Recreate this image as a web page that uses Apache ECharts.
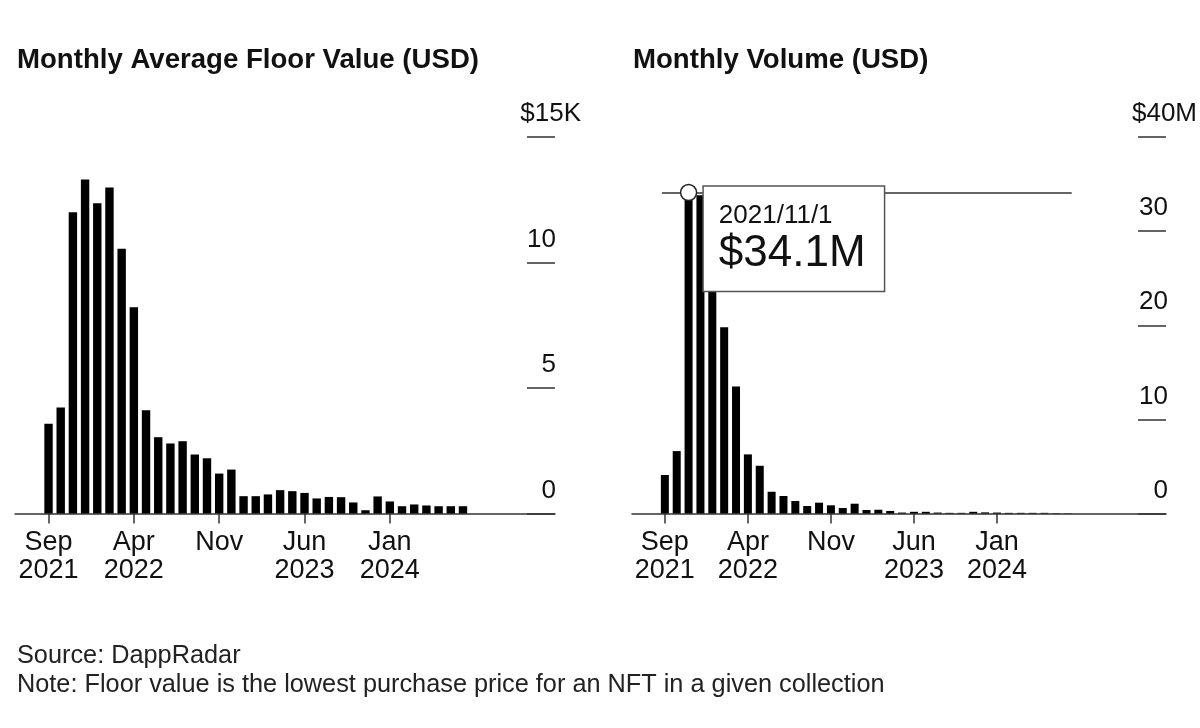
<!DOCTYPE html>
<html>
<head>
<meta charset="utf-8">
<script src="https://cdn.jsdelivr.net/npm/echarts@6/dist/echarts.min.js"></script>
<style>
html,body{margin:0;padding:0;background:#fff;}
#chart{width:1200px;height:728px;}
</style>
</head>
<body>
<div id="chart"></div>
<script>
// ---- data ----
const months = ['2021-09','2021-10','2021-11','2021-12','2022-01','2022-02','2022-03','2022-04','2022-05','2022-06',
  '2022-07','2022-08','2022-09','2022-10','2022-11','2022-12','2023-01','2023-02','2023-03','2023-04',
  '2023-05','2023-06','2023-07','2023-08','2023-09','2023-10','2023-11','2023-12','2024-01','2024-02',
  '2024-03','2024-04','2024-05','2024-06','2024-07'];
// Monthly average floor value, thousand USD
const floorValue = [3.58, 4.22, 12.0, 13.31, 12.36, 12.99, 10.55, 8.22, 4.11, 3.04,
  2.79, 2.88, 2.35, 2.20, 1.59, 1.75, 0.69, 0.69, 0.76, 0.93,
  0.89, 0.82, 0.60, 0.66, 0.65, 0.44, 0.13, 0.68, 0.48, 0.29,
  0.36, 0.32, 0.29, 0.29, 0.29];
// Monthly volume, million USD
const volume = [4.09, 6.63, 34.1, 33.8, 26.0, 19.8, 13.5, 6.28, 5.07, 2.31,
  1.86, 1.33, 0.80, 1.15, 0.87, 0.58, 1.04, 0.37, 0.40, 0.27,
  0.10, 0.18, 0.18, 0.10, 0.07, 0.07, 0.18, 0.12, 0.10, 0.07,
  0.07, 0.07, 0.07, 0.04, 0.03];
const xTickIndex = [0, 7, 14, 21, 28];
const xTickLabels = ['Sep\n2021', 'Apr\n2022', 'Nov', 'Jun\n2023', 'Jan\n2024'];
const leftYTicks = [0, 5, 10, 15];
const leftYTickLabels = ['0', '5', '10', '$15K'];
const rightYTicks = [0, 10, 20, 30, 40];
const rightYTickLabels = ['0', '10', '20', '30', '$40M'];
const titles = ['Monthly Average Floor Value (USD)', 'Monthly Volume (USD)'];
const footer = ['Source: DappRadar', 'Note: Floor value is the lowest purchase price for an NFT in a given collection'];

// ---- chart ----
const FONT = '"Liberation Sans", Arial, Helvetica, sans-serif';
const INK = '#111';
const AXIS = '#333';

const peakIdx = volume.indexOf(Math.max(...volume));
const peakDate = (function (m) { const p = m.split('-'); return p[0] + '/' + (+p[1]) + '/1'; })(months[peakIdx]);
const peakText = '$' + volume[peakIdx].toFixed(1) + 'M';

function xAxisCfg(gridIndex, min, max) {
  return {
    type: 'value', gridIndex: gridIndex, min: min, max: max,
    splitLine: { show: false },
    axisLine: { show: true, onZero: false, lineStyle: { color: AXIS, width: 1.5 } },
    axisTick: { show: true, customValues: xTickIndex, length: 10, lineStyle: { color: AXIS, width: 1.5 } },
    axisLabel: {
      customValues: xTickIndex, margin: 15, fontFamily: FONT, fontSize: 27, lineHeight: 28, color: INK,
      formatter: function (v) { const k = xTickIndex.indexOf(Math.round(v)); return k >= 0 ? xTickLabels[k] : ''; }
    }
  };
}
function yAxisCfg(gridIndex, ticks, labels, max, interval, anchorShift, numPad) {
  return {
    type: 'value', gridIndex: gridIndex, position: 'right', min: 0, max: max, interval: interval,
    splitLine: { show: false },
    axisLine: { show: false, onZero: false },
    axisTick: { show: true, inside: true, length: 28, lineStyle: { color: AXIS, width: 1.5 } },
    axisLabel: {
      inside: true, margin: -anchorShift, align: 'right', verticalAlign: 'bottom',
      formatter: function (v) {
        const k = ticks.indexOf(v);
        if (k < 0) return '';
        return k === ticks.length - 1 ? '{t|' + labels[k] + '}' : '{n|' + labels[k] + '}';
      },
      rich: {
        n: { fontFamily: FONT, fontSize: 26, color: INK, padding: [0, numPad, 10, 0] },
        t: { fontFamily: FONT, fontSize: 26, color: INK, padding: [0, 0, 10, 0] }
      }
    }
  };
}

const option = {
  backgroundColor: '#fff',
  animation: false,
  title: [
    { text: titles[0], left: 12, top: 39, textStyle: { fontFamily: FONT, fontSize: 27.6, fontWeight: 'bold', color: INK, lineHeight: 32 } },
    { text: titles[1], left: 628, top: 39, textStyle: { fontFamily: FONT, fontSize: 27.6, fontWeight: 'bold', color: INK, lineHeight: 32 } },
    { text: footer.join('\n'), left: 12, top: 636, textStyle: { fontFamily: FONT, fontSize: 25.3, fontWeight: 'normal', color: '#222', lineHeight: 29.5 } }
  ],
  grid: [
    { left: 15, right: 645, top: 137, bottom: 214.5 },
    { left: 632, right: 32, top: 137, bottom: 214.5 }
  ],
  xAxis: [xAxisCfg(0, -2.75, 41.55), xAxisCfg(1, -2.77, 42.25)],
  yAxis: [
    yAxisCfg(0, leftYTicks, leftYTickLabels, 15, 5, 26, 25),
    yAxisCfg(1, rightYTicks, rightYTickLabels, 40, 10, 31, 29)
  ],
  series: [
    {
      type: 'bar', xAxisIndex: 0, yAxisIndex: 0, barWidth: 8.4,
      itemStyle: { color: '#000' },
      data: floorValue.map(function (v, i) { return [i, v]; })
    },
    {
      type: 'bar', xAxisIndex: 1, yAxisIndex: 1, barWidth: 8,
      itemStyle: { color: '#000' },
      data: volume.map(function (v, i) { return [i, v]; }),
      markLine: {
        silent: true, symbol: 'none', z: 3,
        lineStyle: { color: AXIS, width: 1.5, type: 'solid' },
        label: { show: false },
        data: [[{ coord: [peakIdx - 2.25, volume[peakIdx]] }, { coord: [months.length - 1 + 0.3, volume[peakIdx]] }]]
      },
      markPoint: {
        silent: true, z: 10,
        data: [{
          coord: [peakIdx, volume[peakIdx]],
          symbol: 'circle', symbolSize: 16,
          itemStyle: { color: '#fff', borderColor: '#222', borderWidth: 1.5 },
          label: {
            show: true, position: [24, 3], align: 'left', verticalAlign: 'top',
            backgroundColor: '#fff', borderColor: '#555', borderWidth: 1.5,
            padding: [12, 15, 15, 15], width: 150,
            formatter: '{d|' + peakDate + '}\n{v|' + peakText + '}',
            rich: {
              d: { fontFamily: FONT, fontSize: 26, lineHeight: 34, color: INK },
              v: { fontFamily: FONT, fontSize: 44, lineHeight: 43, color: INK }
            }
          }
        }]
      }
    }
  ]
};

const chart = echarts.init(document.getElementById('chart'), null, { renderer: 'canvas' });
chart.setOption(option);
</script>
</body>
</html>
